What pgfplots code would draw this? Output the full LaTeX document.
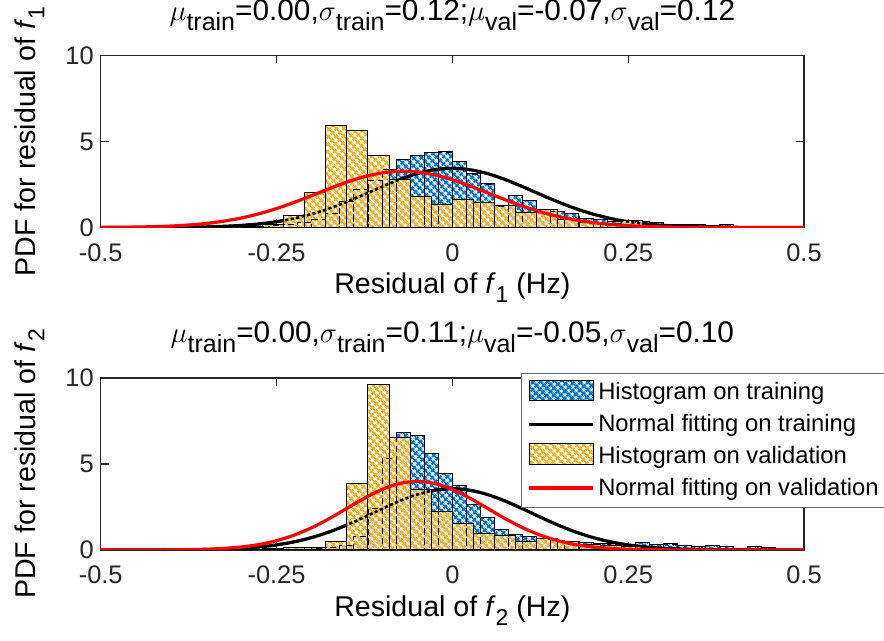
\documentclass[border=0pt]{standalone}
\usepackage{fontspec}
\setmainfont{Liberation Sans}
\usepackage{pgfplots}
\pgfplotsset{compat=1.18}
\usetikzlibrary{patterns.meta}
\definecolor{tblue}{RGB}{0,118,205}
\definecolor{vorange}{RGB}{238,178,34}
\definecolor{axgray}{RGB}{38,38,38}
\newcommand{\tsub}[1]{\raisebox{-0.32em}{\fontsize{12.5}{12}\selectfont #1}}
\newcommand{\lsub}[1]{\raisebox{-0.32em}{\fontsize{11.5}{12}\selectfont #1}}
\tikzdeclarepattern{
  name=mhatch,
  type=uncolored,
  bottom left={(0pt,0pt)},
  top right={(2.6pt,2.6pt)},
  tile size={(2.6pt,2.6pt)},
  tile transformation={rotate=45},
  code={
    \draw[line width=1.1pt] (0,1.3pt) -- (2.6pt,1.3pt);
    \draw[line width=1.1pt] (1.3pt,0) -- (1.3pt,2.6pt);
  }
}
\pgfplotsset{
  myaxis/.style={
    width=351.65pt, height=86pt, scale only axis,
    xmin=-0.5, xmax=0.5, ymin=0, ymax=10,
    xtick={-0.5,-0.25,0,0.25,0.5},
    xticklabels={-0.5,-0.25,0,0.25,0.5},
    ytick={0,5,10},
    yticklabels={0,5,10},
    tick align=inside,
    major tick length=4pt,
    axis line style={line width=0.6pt, color=axgray},
    tick style={line width=0.6pt, color=axgray},
    every tick label/.append style={font=\fontsize{12.7}{15}\selectfont, text=axgray},
    xticklabel style={yshift=-4.5pt},
    label style={font=\fontsize{14.3}{16}\selectfont, text=black},
    xlabel style={at={(axis description cs:0.5,-0.385)}, anchor=base},
    ylabel style={at={(axis description cs:-0.0931,0.5)}, anchor=base, rotate=0},
    title style={font=\fontsize{14.9}{16}\selectfont, text=black,
      at={(axis description cs:0.5,1)}, anchor=base, yshift=11.5pt},
    clip=true,
  },
  trainbar/.style={ybar interval, draw=black, line width=0.5pt, fill=white,
    postaction={pattern=mhatch, pattern color=tblue},
    legend image code/.code={\draw[draw=black, line width=0.5pt, fill=white, postaction={pattern=mhatch, pattern color=tblue}] (0pt,-4.2pt) rectangle (32pt,6.2pt);}},
  trainedge/.style={ybar interval, draw=black, line width=0.45pt, densely dashed, fill=none, forget plot},
  valbar/.style={ybar interval, draw=black, line width=0.5pt,
    preaction={fill=white, fill opacity=0.8},
    pattern=mhatch, pattern color=vorange,
    legend image code/.code={\draw[draw=black, line width=0.5pt, fill=white, postaction={pattern=mhatch, pattern color=vorange}] (0pt,-4.2pt) rectangle (32pt,6.2pt);}},
  curve/.style={smooth, line width=1.6pt, no marks,
    legend image code/.code={\draw[##1] (0pt,0pt) -- (32pt,0pt);}},
  ghost/.style={smooth, line width=1.3pt, no marks, black, dash pattern=on 1.6pt off 1.2pt, forget plot},
}
% ---- data ----
\pgfplotstableread{
x y
-0.28 0.05
-0.26 0.1
-0.24 0.15
-0.22 0.3
-0.20 0.45
-0.18 0.83
-0.16 1.5
-0.14 2.2
-0.12 2.76
-0.10 3.4
-0.08 3.97
-0.06 4.20
-0.04 4.36
-0.02 4.39
0.00 3.83
0.02 3.11
0.04 2.53
0.06 1.25
0.08 1.87
0.10 1.56
0.12 1.06
0.14 0.94
0.16 0.79
0.18 0.55
0.20 0.45
0.22 0.35
0.24 0.43
0.26 0.35
0.28 0.3
0.30 0.2
0.32 0.2
0.34 0.18
0.36 0.1
0.38 0.2
0.40 0.08
0.42 0.08
0.44 0.06
0.46 0.05
0.48 0.05
}\trainA
\pgfplotstableread{
x y
-0.5 0.0004
-0.45 0.002
-0.4 0.009
-0.375 0.018
-0.35 0.036
-0.325 0.068
-0.3 0.121
-0.275 0.207
-0.25 0.337
-0.225 0.524
-0.2 0.778
-0.175 1.102
-0.15 1.491
-0.125 1.924
-0.1 2.372
-0.075 2.790
-0.05 3.134
-0.025 3.360
0 3.439
0.025 3.360
0.05 3.134
0.075 2.790
0.1 2.372
0.125 1.924
0.15 1.491
0.175 1.102
0.2 0.778
0.225 0.524
0.25 0.337
0.275 0.207
0.3 0.121
0.325 0.068
0.35 0.036
0.375 0.018
0.4 0.009
0.45 0.002
0.5 0.0004
}\fitTA
\pgfplotstableread{
x y
-0.28 0.02
-0.26 0.03
-0.24 0.05
-0.22 0.05
-0.20 0.1
-0.18 0.15
-0.16 0.25
-0.14 0.81
-0.12 2.41
-0.10 5.35
-0.08 6.85
-0.06 6.66
-0.04 5.6
-0.02 4.44
0.00 3.76
0.02 2.66
0.04 1.89
0.06 1.2
0.08 0.91
0.10 0.77
0.12 0.68
0.14 0.54
0.16 0.48
0.18 0.45
0.20 0.4
0.22 0.35
0.24 0.3
0.26 0.45
0.28 0.3
0.30 0.35
0.32 0.25
0.34 0.2
0.36 0.25
0.38 0.2
0.40 0.1
0.42 0.18
0.44 0.15
0.46 0.05
0.48 0.03
0.50 0.03
}\trainB
\pgfplotstableread{
x y
-0.5 0.0001
-0.45 0.001
-0.4 0.006
-0.375 0.013
-0.35 0.027
-0.325 0.053
-0.3 0.099
-0.275 0.175
-0.25 0.295
-0.225 0.473
-0.2 0.723
-0.175 1.051
-0.15 1.453
-0.125 1.911
-0.1 2.391
-0.075 2.847
-0.05 3.224
-0.025 3.474
0 3.562
0.025 3.474
0.05 3.224
0.075 2.847
0.1 2.391
0.125 1.911
0.15 1.453
0.175 1.051
0.2 0.723
0.225 0.473
0.25 0.295
0.275 0.175
0.3 0.099
0.325 0.053
0.35 0.027
0.375 0.013
0.4 0.006
0.45 0.001
0.5 0.0001
}\fitTB
\begin{document}
\begin{tikzpicture}
\path[use as bounding box] (0,0) rectangle (442pt,320.5pt);
% ---------------- top -----------------
\begin{axis}[myaxis, at={(50.35pt,206.75pt)}, anchor=south west,
  title={$\mu$\tsub{train}=0.00,$\sigma$\tsub{train}=0.12;$\mu$\tsub{val}=-0.07,$\sigma$\tsub{val}=0.12},
  xlabel={Residual of \textit{f}\lsub{1} (Hz)},
  ylabel={PDF for residual of \textit{f}\lsub{1}}]
\addplot[trainbar] table {\trainA};
\addplot[curve, black] table {\fitTA};
\addplot[valbar] coordinates {
(-0.30,0.03) (-0.27,0.15) (-0.24,0.69) (-0.21,2.05) (-0.18,5.95) (-0.15,5.66)
(-0.12,4.2) (-0.09,2.8) (-0.06,1.8) (-0.03,1.35) (0.00,1.6) (0.03,1.47)
(0.06,1.29) (0.09,0.88) (0.12,1.02) (0.15,0.44) (0.18,0.3) (0.21,0.25)
(0.24,0.4) (0.27,0.1) (0.30,0.05) (0.33,0.03) (0.36,0.02) (0.39,0.02) (0.42,0.02)};
\addplot[trainedge] table {\trainA};
\addplot[ghost] table {\fitTA};
\addplot[curve, red] coordinates {
(-0.5,0.0066) (-0.47,0.015) (-0.445,0.029) (-0.42,0.053) (-0.395,0.094) (-0.37,0.159)
(-0.345,0.258) (-0.32,0.401) (-0.295,0.597) (-0.27,0.853) (-0.245,1.169) (-0.22,1.536)
(-0.195,1.935) (-0.17,2.337) (-0.145,2.707) (-0.12,3.007) (-0.095,3.202) (-0.07,3.270)
(-0.045,3.202) (-0.02,3.007) (0.005,2.707) (0.03,2.337) (0.055,1.935) (0.08,1.536)
(0.105,1.169) (0.13,0.853) (0.155,0.597) (0.18,0.401) (0.205,0.258) (0.23,0.159)
(0.255,0.094) (0.28,0.053) (0.305,0.029) (0.33,0.015) (0.38,0.0036) (0.43,0.0007) (0.5,0.0001)};
\end{axis}
% ---------------- bottom -----------------
\begin{axis}[myaxis, at={(50.35pt,45.5pt)}, anchor=south west,
  title={$\mu$\tsub{train}=0.00,$\sigma$\tsub{train}=0.11;$\mu$\tsub{val}=-0.05,$\sigma$\tsub{val}=0.10},
  xlabel={Residual of \textit{f}\lsub{2} (Hz)},
  ylabel={PDF for residual of \textit{f}\lsub{2}},
  legend cell align=left,
  legend style={at={(0.5976,1.031)}, anchor=north west,
    font=\fontsize{11.9}{14}\selectfont, draw=black!60, line width=0.5pt,
    fill=white, row sep=2.6pt, inner xsep=3.2pt, inner ysep=3pt,
    nodes={inner sep=1.6pt}}]
\addplot[trainbar] table {\trainB};
\addlegendentry{Histogram on training}
\addplot[curve, black] table {\fitTB};
\addlegendentry{Normal fitting on training}
\addplot[valbar] coordinates {
(-0.30,0.05) (-0.27,0.1) (-0.24,0.13) (-0.21,0.13) (-0.18,0.48) (-0.15,3.86)
(-0.12,9.65) (-0.09,6.52) (-0.06,3.51) (-0.03,2.22) (0.00,1.54) (0.03,0.96)
(0.06,0.87) (0.09,0.48) (0.12,0.68) (0.15,0.48) (0.18,0.3) (0.21,0.25)
(0.24,0.2) (0.27,0.1) (0.30,0.1) (0.33,0.05) (0.36,0.05)};
\addlegendentry{Histogram on validation}
\addplot[trainedge] table {\trainB};
\addplot[ghost] table {\fitTB};
\addplot[curve, red] coordinates {
(-0.5,0.0001) (-0.45,0.001) (-0.4,0.009) (-0.375,0.020) (-0.35,0.044) (-0.325,0.091)
(-0.3,0.175) (-0.275,0.317) (-0.25,0.540) (-0.225,0.863) (-0.2,1.295) (-0.175,1.826)
(-0.15,2.420) (-0.125,3.011) (-0.1,3.520) (-0.075,3.866) (-0.05,3.989) (-0.025,3.866)
(0,3.520) (0.025,3.011) (0.05,2.420) (0.075,1.826) (0.1,1.295) (0.125,0.863)
(0.15,0.540) (0.175,0.317) (0.2,0.175) (0.225,0.091) (0.25,0.044) (0.275,0.020)
(0.3,0.009) (0.35,0.001) (0.4,0.0001) (0.5,0.0)};
\addlegendentry{Normal fitting on validation}
\end{axis}
\end{tikzpicture}
\end{document}
